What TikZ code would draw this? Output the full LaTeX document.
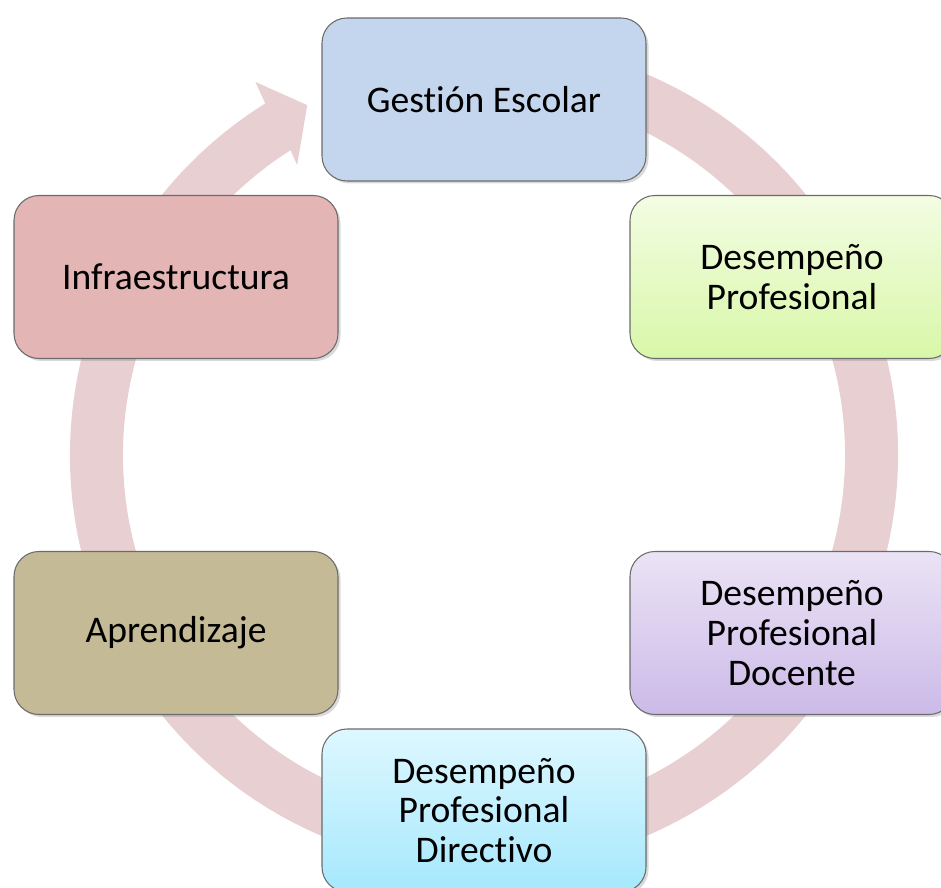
\documentclass[tikz,border=0pt]{standalone}
\usepackage{fontspec}
\setmainfont{Carlito}[Ligatures={NoCommon,NoRare}]
\usetikzlibrary{shadows}
\definecolor{anillo}{rgb}{0.91,0.81,0.82}
\definecolor{azul}{rgb}{0.77,0.84,0.93}
\definecolor{rosa}{rgb}{0.89,0.71,0.71}
\definecolor{caqui}{rgb}{0.77,0.73,0.59}
\definecolor{verdea}{rgb}{0.95,0.99,0.89}
\definecolor{verdeb}{rgb}{0.85,0.97,0.66}
\definecolor{lilaa}{rgb}{0.92,0.89,0.96}
\definecolor{lilab}{rgb}{0.80,0.73,0.91}
\definecolor{celestea}{rgb}{0.87,0.97,1.0}
\definecolor{celesteb}{rgb}{0.65,0.91,0.99}
\definecolor{borde}{rgb}{0.42,0.42,0.42}
\tikzset{caja/.style={rectangle, rounded corners=0.5cm, draw=borde, line width=0.6pt,
  minimum width=6.48cm, minimum height=3.26cm, align=center,
  font=\fontsize{21.4}{22.7}\selectfont,
  drop shadow={shadow xshift=0.05cm, shadow yshift=-0.05cm, opacity=0.3}}}

\begin{document}
\begin{tikzpicture}
\useasboundingbox (0,0) rectangle (18.82,17.76);
\clip (0,0) rectangle (18.82,17.76);
% ring with arrow
\begin{scope}[shift={(9.68,8.66)}]
\fill[anillo] (80:8.28) arc[start angle=80, end angle=-238.1, radius=8.28]
  -- (-238.5:8.75) -- (-243.2:7.84) -- (-237.2:6.9) -- (-237.6:7.22)
  arc[start angle=-237.6, end angle=80, radius=7.22] -- cycle;
\end{scope}
  \node[caja, fill=azul] (ge) at (9.68,15.77) {Gestión Escolar};
  \node[caja, top color=verdea, bottom color=verdeb] (dp) at (15.84,12.22) {Desempeño\\Profesional};
  \node[caja, top color=lilaa, bottom color=lilab] (docente) at (15.84,5.10) {Desempeño\\Profesional\\Docente};
  \node[caja, top color=celestea, bottom color=celesteb] (directivo) at (9.68,1.55) {Desempeño\\Profesional\\Directivo};
  \node[caja, fill=caqui] (aprend) at (3.52,5.10) {Aprendizaje};
  \node[caja, fill=rosa] (infra) at (3.52,12.22) {Infraestructura};
\end{tikzpicture}
\end{document}
